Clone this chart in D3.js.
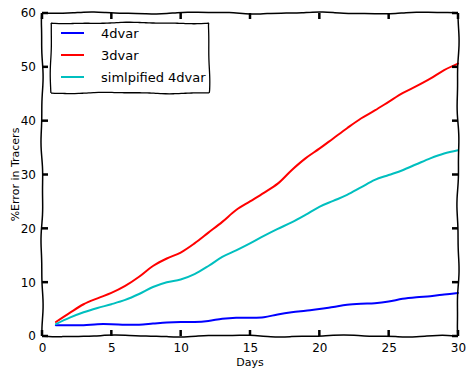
<!DOCTYPE html>
<html>
<head>
<meta charset="utf-8">
<script src="https://cdn.jsdelivr.net/npm/d3@7"></script>
<style>
html,body{margin:0;padding:0;background:#fff;}
text{font-family:"DejaVu Sans",sans-serif;fill:#000;}
</style>
</head>
<body>
<svg id="chart" width="466" height="369"></svg>
<script>
const days = d3.range(1, 31);
const var4 = [2.0,2.0,2.0,2.2,2.2,2.1,2.1,2.3,2.5,2.6,2.6,2.8,3.2,3.4,3.4,3.5,4.0,4.4,4.7,5.0,5.4,5.8,6.0,6.1,6.4,6.9,7.2,7.4,7.7,8.0];
const var3 = [2.6,4.3,5.9,7.0,8.0,9.3,11.0,13.0,14.4,15.5,17.2,19.2,21.2,23.4,25.0,26.6,28.3,30.8,33.0,34.8,36.7,38.6,40.4,41.9,43.5,45.1,46.4,47.8,49.4,50.6];
const simp4 = [2.2,3.4,4.4,5.2,5.9,6.7,7.8,9.1,10.0,10.5,11.5,13.0,14.7,15.9,17.2,18.6,19.9,21.1,22.5,24.0,25.1,26.2,27.6,29.0,29.9,30.8,31.9,33.0,33.9,34.5];
const seriesNames = ["4dvar","3dvar","simlpified 4dvar"];
const seriesColors = ["#0000ff","#ff0000","#00bfbf"];
const xTicks = [0,5,10,15,20,25,30];
const yTicks = [0,10,20,30,40,50,60];

const svg = d3.select("#chart");
const L=42, R=458, T=13, B=336;
const x = d3.scaleLinear().domain([0,30]).range([L,R]);
const y = d3.scaleLinear().domain([0,60]).range([B,T]);

// wiggly helper (xkcd style)
function wiggle(x0,y0,x1,y1,amp,seed){
  const n=40, pts=[];
  const len=Math.hypot(x1-x0,y1-y0);
  const nx=-(y1-y0)/len, ny=(x1-x0)/len;
  for(let i=0;i<=n;i++){
    const t=i/n;
    const o=amp*(Math.sin(t*len/18+seed)*0.7+Math.sin(t*len/7.3+seed*2.1)*0.3)*(i===0||i===n?0.3:1);
    pts.push([x0+(x1-x0)*t+nx*o, y0+(y1-y0)*t+ny*o]);
  }
  return d3.line().curve(d3.curveBasis)(pts);
}

const data = [var4, var3, simp4];
const line = d3.line().x((d,i)=>x(days[i])).y(d=>y(d)).curve(d3.curveCatmullRom);
data.forEach((s,k)=>{
  svg.append("path").attr("d",line(s)).attr("fill","none")
    .attr("stroke","#fff").attr("stroke-width",4).attr("stroke-linecap","round");
});
data.forEach((s,k)=>{
  svg.append("path").attr("d",line(s)).attr("fill","none")
    .attr("stroke",seriesColors[k]).attr("stroke-width",2).attr("stroke-linecap","round");
});

// frame
const frame = svg.append("g").attr("fill","none").attr("stroke","#000").attr("stroke-width",1.5);
frame.append("path").attr("d",wiggle(L,B,R,B,1.2,0.5));
frame.append("path").attr("d",wiggle(L,T,R,T,1.2,2.0));
frame.append("path").attr("d",wiggle(L,T,L,B,1.2,1.1));
frame.append("path").attr("d",wiggle(R,T,R,B,1.2,3.3));

// ticks (inward, on all sides)
const tk = svg.append("g").attr("stroke","#000").attr("stroke-width",2.5);
xTicks.forEach(v=>{
  tk.append("line").attr("x1",x(v)).attr("x2",x(v)).attr("y1",B).attr("y2",B-6);
  tk.append("line").attr("x1",x(v)).attr("x2",x(v)).attr("y1",T).attr("y2",T+6);
});
yTicks.forEach(v=>{
  tk.append("line").attr("x1",L).attr("x2",L+6).attr("y1",y(v)).attr("y2",y(v));
  tk.append("line").attr("x1",R).attr("x2",R-6).attr("y1",y(v)).attr("y2",y(v));
});

// tick labels via axes (lines hidden)
const xa = svg.append("g").attr("transform",`translate(0,${B})`)
  .call(d3.axisBottom(x).tickValues(xTicks).tickSize(0).tickPadding(7));
const ya = svg.append("g").attr("transform",`translate(${L},0)`)
  .call(d3.axisLeft(y).tickValues(yTicks).tickSize(0).tickPadding(6));
[xa,ya].forEach(a=>{
  a.select(".domain").remove();
  a.selectAll("text").style("font-family","DejaVu Sans, sans-serif").style("font-size","12px");
});

svg.append("text").attr("x",(L+R)/2).attr("y",366).attr("text-anchor","middle")
  .style("font-size","11px").text("Days");
svg.append("text").attr("transform",`translate(19,${(T+B)/2}) rotate(-90)`)
  .attr("text-anchor","middle").style("font-size","11px").text("%Error in Tracers");

// legend
const lg = svg.append("g");
lg.append("path").attr("d",
  wiggle(51,23,209,23,0.8,0.2)+wiggle(209,23,209,93,0.8,1.4)+wiggle(209,93,51,93,0.8,2.6)+wiggle(51,93,51,23,0.8,3.9))
  .attr("fill","#fff").attr("stroke","#000").attr("stroke-width",1.3);
seriesNames.forEach((n,i)=>{
  const yy = 33 + i*22;
  lg.append("line").attr("x1",61).attr("x2",84).attr("y1",yy).attr("y2",yy)
    .attr("stroke",seriesColors[i]).attr("stroke-width",2);
  lg.append("text").attr("x",101).attr("y",yy+5).style("font-size","13px").text(n);
});
</script>
</body>
</html>
